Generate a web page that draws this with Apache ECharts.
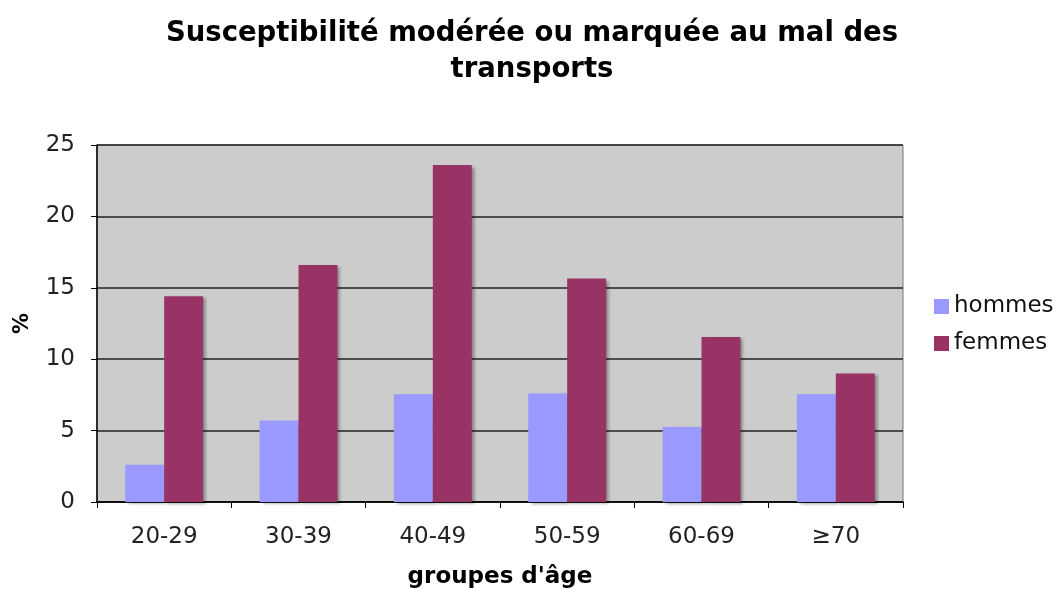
<!DOCTYPE html>
<html><head><meta charset="utf-8">
<script src="https://cdn.jsdelivr.net/npm/echarts@6/dist/echarts.min.js"></script>
<style>html,body{margin:0;padding:0;background:#fff}#c{width:1056px;height:589px}</style>
</head><body><div id="c"></div>
<script>
var categories = ['20-29','30-39','40-49','50-59','60-69','≥70'];
var hommes = [2.6, 5.7, 7.55, 7.6, 5.25, 7.55];
var femmes = [14.4, 16.6, 23.6, 15.65, 11.55, 9.0];
var yTicks = [0,5,10,15,20,25];
var F = '"DejaVu Sans", Verdana, sans-serif';
var chart = echarts.init(document.getElementById('c'));
var barStyle = function(c){return {color:c, shadowColor:'rgba(0,0,0,0.35)', shadowOffsetX:3, shadowOffsetY:2, shadowBlur:3};};
chart.setOption({
  animation:false,
  title:{text:'Susceptibilité modérée ou marquée au mal des\ntransports', left:527, top:11, textAlign:'center',
    textStyle:{fontFamily:F, fontWeight:'bold', fontSize:27.5, color:'#000', lineHeight:36}},
  legend:{orient:'vertical', left:929, top:289, itemWidth:15, itemHeight:15, itemGap:12,
    textStyle:{fontFamily:F, fontSize:23, color:'#111', lineHeight:25}, icon:'rect',
    data:['hommes','femmes']},
  grid:{left:97, right:153, top:145, bottom:87, outerBoundsMode:'none', containLabel:false,
    backgroundColor:'#cccccc', show:true, borderColor:'#777', borderWidth:1},
  xAxis:{type:'category', data:categories, name:'groupes d\'âge', nameLocation:'middle', nameGap:64,
    nameTextStyle:{fontFamily:F, fontWeight:'bold', fontSize:23, color:'#000'},
    axisLine:{lineStyle:{color:'#000', width:1.5}}, axisTick:{show:true, length:6, lineStyle:{color:'#000'}},
    axisLabel:{fontFamily:F, fontSize:23, color:'#222', margin:24}},
  yAxis:{type:'value', min:0, max:25, interval:5, name:'%', nameLocation:'middle', nameGap:64, nameRotate:90,
    nameTextStyle:{fontFamily:F, fontWeight:'bold', fontSize:21, color:'#000'},
    axisLine:{show:true, lineStyle:{color:'#000', width:1.5}}, axisTick:{show:true, length:6, lineStyle:{color:'#000'}},
    axisLabel:{fontFamily:F, fontSize:23, color:'#222', margin:22, formatter:function(v){return yTicks.indexOf(v)>=0?String(v):'';}},
    splitLine:{lineStyle:{color:'#222', width:1.5}}},
  series:[
    {name:'hommes', type:'bar', data:hommes, barGap:'0%', barCategoryGap:'42%', itemStyle:barStyle('#9999ff')},
    {name:'femmes', type:'bar', data:femmes, itemStyle:barStyle('#993366')}
  ]
});
</script></body></html>
